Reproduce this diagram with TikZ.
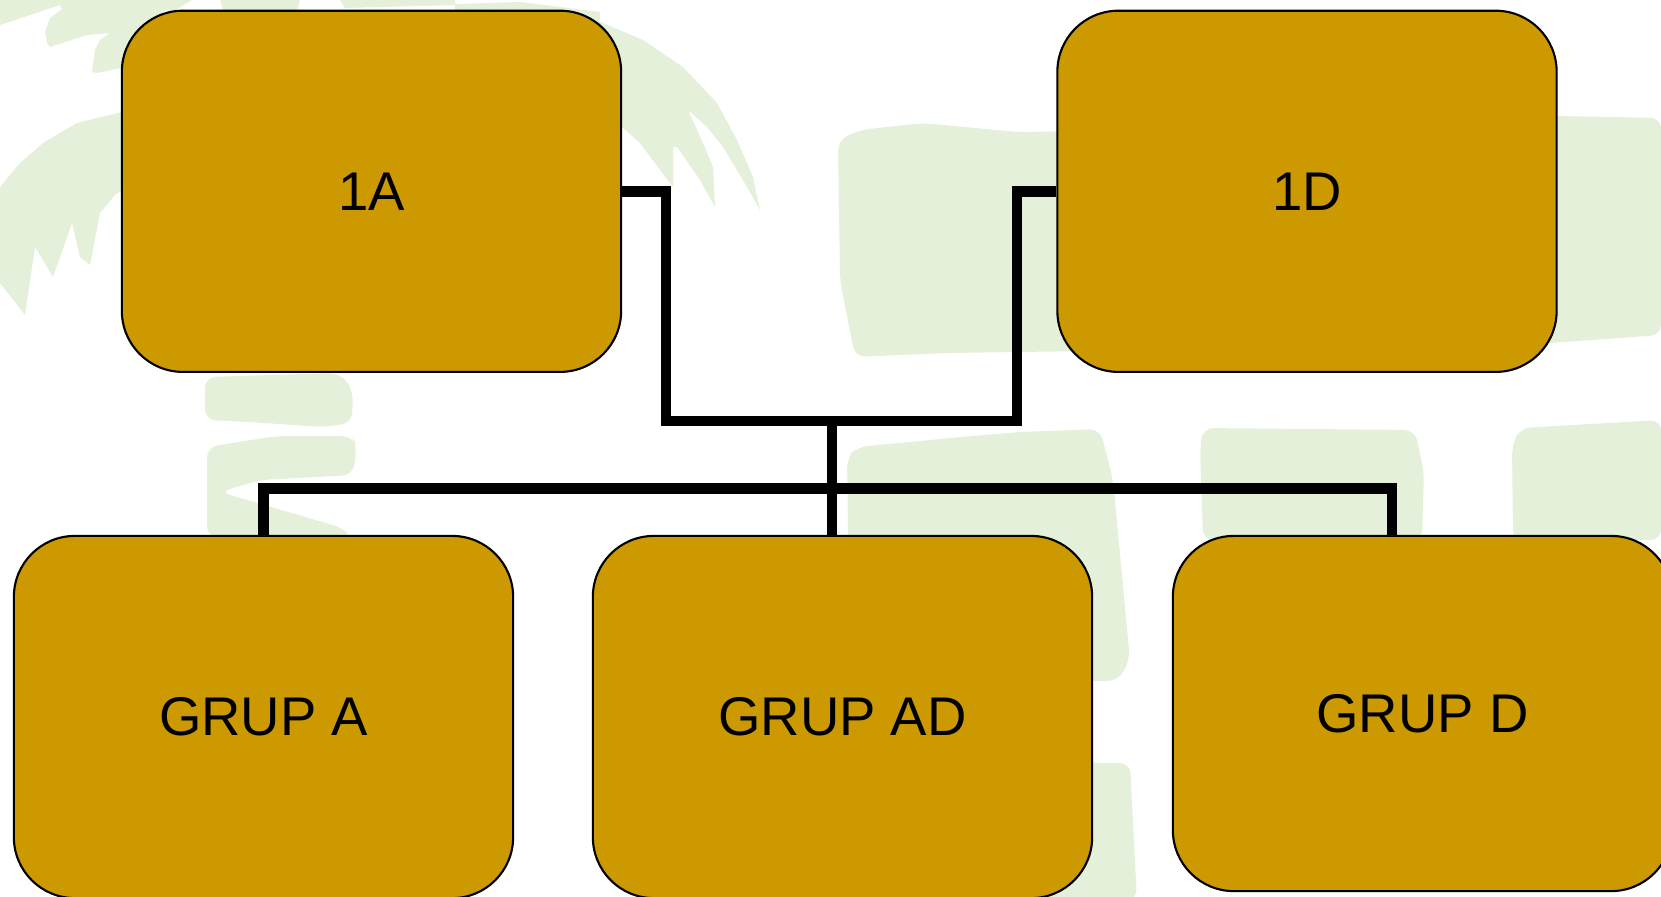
\documentclass[tikz,border=0pt]{standalone}
\usepackage{fontspec}
\setmainfont{Liberation Sans}
\usepackage{tikz}
\usetikzlibrary{calc}
\definecolor{grupgold}{RGB}{204,153,0}
\definecolor{palmgreen}{RGB}{229,240,218}

\begin{document}
\begin{tikzpicture}[x=0.01cm, y=-0.01cm,
    groupbox/.style={draw=black, line width=0.6pt, fill=grupgold, rounded corners=0.61cm,
        minimum width=4.99cm, minimum height=3.61cm, inner sep=0pt,
        font=\fontsize{15.5}{18}\selectfont},
    connector/.style={line width=3.1pt, black},
    palm/.style={fill=palmgreen, draw=none},
    brush/.style={fill=palmgreen, draw=none, rounded corners=3pt}]
    \useasboundingbox (0,0) rectangle (1661,896);
    \clip (0,0) rectangle (1661,896);

    % Background palm
    \fill[palm] (0,0) -- (0,25) -- (60,5) -- (62,9) -- (50,18) -- (45,32) -- (47,43) -- (50,47)
        -- (87,35) -- (110,33) -- (100,40) -- (95,50) -- (92,72) -- (97,73) -- (130,66)
        -- (150,25) -- (175,0) -- cycle;
    \fill[palm] (0,187) -- (20,163) -- (43,143) -- (77,123) -- (130,110) -- (130,190)
        -- (122,190) -- (115,195) -- (100,213) -- (90,265) -- (80,257) -- (72,223)
        -- (53,277) -- (35,247) -- (25,315) -- (0,283) -- cycle;
    \fill[palm] (140,0) -- (192,0) -- (172,12) -- cycle;
    \fill[palm] (220,0) -- (300,0) -- (296,14) -- (224,14) -- cycle;
    \fill[palm] (340,0) -- (455,0) -- (455,5) -- (345,8) -- cycle;
    \fill[palm] (455,4) -- (520,2) -- (600,12) -- (600,30) -- (455,14) -- cycle;
    \fill[palm] (590,18) -- (603,23) -- (643,40) -- (683,67) -- (717,103) -- (737,140)
        -- (753,177) -- (760,210) -- (747,187) -- (723,147) -- (707,127) -- (688,110)
        -- (703,143) -- (713,167) -- (715,207) -- (700,180) -- (677,147) -- (673,147)
        -- (673,187) -- (660,170) -- (640,143) -- (622,127) -- (600,110) -- cycle;
    % trunk
    \fill[brush] (205,377) -- (340,373) -- (353,390) -- (352,423) -- (323,427)
        -- (250,422) -- (205,420) -- cycle;
    \fill[brush] (207,447) -- (277,436) -- (352,436) -- (357,445) -- (353,475)
        -- (260,480) -- (220,492) -- (343,528) -- (352,537) -- (207,537) -- cycle;
    % brush strokes
    \fill[brush] (860,130) -- (923,123) -- (1017,132) -- (1300,128) -- (1558,116) -- (1661,118)
        -- (1661,335) -- (1550,343) -- (1300,348) -- (947,353) -- (855,357)
        -- (840,280) -- (838,140) -- cycle;
    \fill[brush] (857,447) -- (972,436) -- (1020,432) -- (1100,429) -- (1113,480)
        -- (1130,660) -- (1118,681) -- (850,682) -- (847,457) -- cycle;
    \fill[brush] (1000,762) -- (1130,763) -- (1137,900) -- (1000,900) -- cycle;
    \fill[brush] (1203,428) -- (1415,430) -- (1424,473) -- (1422,540)
        -- (1203,540) -- (1200,447) -- cycle;
    \fill[brush] (1520,428) -- (1661,420) -- (1661,540) -- (1513,540) -- (1512,445) -- cycle;

    % Boxes
    \node[groupbox] (kelasA) at (371.5,191.3) {1A};
    \node[groupbox] (kelasD) at (1307,191.3) {1D};
    \node[groupbox, minimum height=3.62cm] (grupA) at (263.5,717) {GRUP A};
    \node[groupbox, minimum height=3.62cm] (grupAD) at (842.5,717) {GRUP AD};
    \node[groupbox, minimum height=3.55cm] (grupD) at (1422.5,713.5) {GRUP D};

    % Connectors
    \coordinate (jointA) at (666,421);
    \coordinate (jointD) at (1017,421);
    \coordinate (jointM) at (832,421);
    \coordinate (barL) at (263.5,488.3);
    \coordinate (barR) at (1392,488.3);
    \draw[connector] (kelasA.east) -| (jointA) -- (jointD) |- (kelasD.west);
    \draw[connector] (jointM) -- (jointM |- grupAD.north);
    \draw[connector] (grupA.north) -- (barL) -- (barR) -- (barR |- grupD.north);
\end{tikzpicture}
\end{document}
